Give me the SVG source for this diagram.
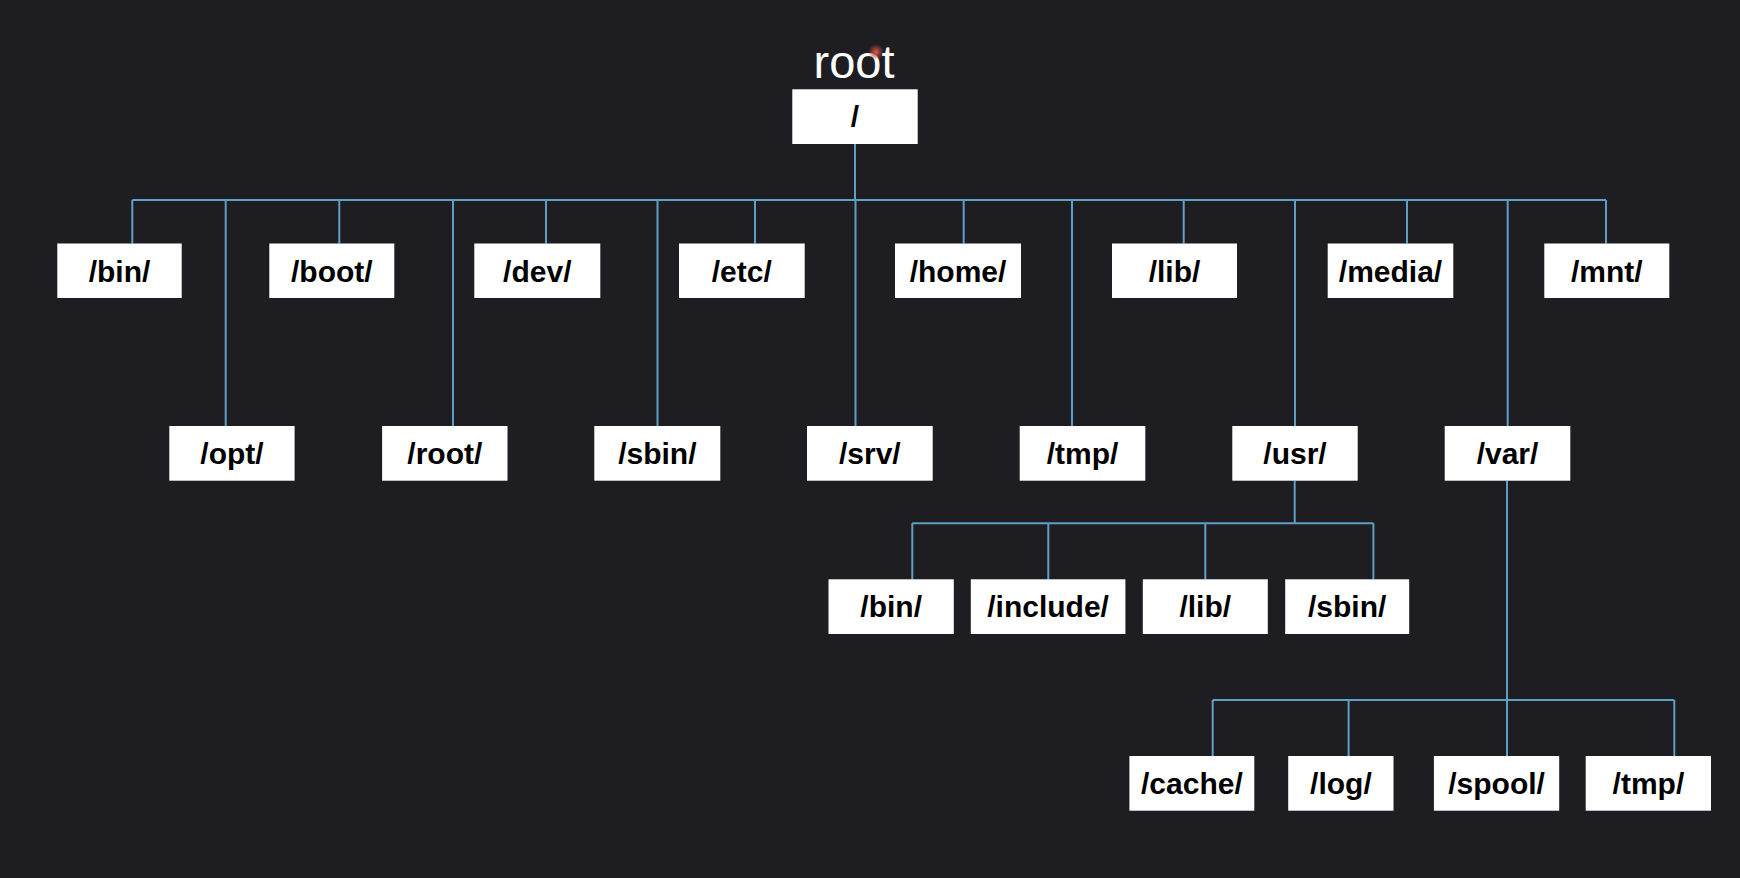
<svg xmlns="http://www.w3.org/2000/svg" width="1740" height="878" viewBox="0 0 1740 878">
<defs>
<style>
.box{fill:#ffffff;}
.lbl{font-family:"Liberation Sans",Arial,Helvetica,sans-serif;font-size:30px;font-weight:bold;fill:#000000;text-anchor:middle;}
.title{font-family:"Liberation Sans",Arial,Helvetica,sans-serif;font-size:47px;fill:#ffffff;text-anchor:middle;}
.conn{stroke:#5e9fc6;stroke-width:2;fill:none;}
</style>
<radialGradient id="glow" cx="0.5" cy="0.5" r="0.5">
<stop offset="0" stop-color="#e06a5a" stop-opacity="0.95"/>
<stop offset="0.5" stop-color="#c0453e" stop-opacity="0.6"/>
<stop offset="1" stop-color="#c0453e" stop-opacity="0"/>
</radialGradient>
</defs>
<rect width="1740" height="878" fill="#1e1d22"/>

<g id="connectors" class="conn">
<path d="M855 144 V200"/>
<path d="M132.3 200 H1606"/>
<path d="M132.3 200 V243.5 M339.3 200 V243.5 M546 200 V243.5 M755 200 V243.5 M963.7 200 V243.5 M1183.7 200 V243.5 M1407 200 V243.5 M1606 200 V243.5"/>
<path d="M225.7 200 V426 M453 200 V426 M657.5 200 V426 M855.5 200 V426 M1072 200 V426 M1295 200 V426 M1507.7 200 V426"/>
<path d="M1294.7 480.7 V523.3 M912.3 523.3 H1373.4 M912.3 523.3 V579.3 M1048.3 523.3 V579.3 M1205.3 523.3 V579.3 M1373.4 523.3 V579.3"/>
<path d="M1507 480.7 V756 M1212.7 700 H1674.3 M1212.7 700 V756 M1348.6 700 V756 M1674.3 700 V756"/>
</g>

<g id="root-title">
<text class="title" x="854" y="78">root</text>
<circle cx="876" cy="52" r="8" fill="url(#glow)"/>
</g>

<g id="node-root"><rect class="box" x="792.3" y="89.3" width="125.4" height="54.7"/><text class="lbl" x="855" y="127.4">/</text></g>

<g id="node-bin"><rect class="box" x="57.3" y="243.5" width="124.4" height="54.5"/><text class="lbl" x="119.5" y="281.5">/bin/</text></g>
<g id="node-boot"><rect class="box" x="269.3" y="243.5" width="125" height="54.5"/><text class="lbl" x="331.8" y="281.5">/boot/</text></g>
<g id="node-dev"><rect class="box" x="474.3" y="243.5" width="126" height="54.5"/><text class="lbl" x="537.3" y="281.5">/dev/</text></g>
<g id="node-etc"><rect class="box" x="679" y="243.5" width="125.7" height="54.5"/><text class="lbl" x="741.8" y="281.5">/etc/</text></g>
<g id="node-home"><rect class="box" x="895" y="243.5" width="126" height="54.5"/><text class="lbl" x="958" y="281.5">/home/</text></g>
<g id="node-lib"><rect class="box" x="1112" y="243.5" width="125" height="54.5"/><text class="lbl" x="1174.5" y="281.5">/lib/</text></g>
<g id="node-media"><rect class="box" x="1327.7" y="243.5" width="125.6" height="54.5"/><text class="lbl" x="1390.5" y="281.5">/media/</text></g>
<g id="node-mnt"><rect class="box" x="1544.3" y="243.5" width="125" height="54.5"/><text class="lbl" x="1606.8" y="281.5">/mnt/</text></g>

<g id="node-opt"><rect class="box" x="169.3" y="426" width="125.3" height="54.7"/><text class="lbl" x="232" y="464">/opt/</text></g>
<g id="node-rootdir"><rect class="box" x="382.1" y="426" width="125.4" height="54.7"/><text class="lbl" x="444.8" y="464">/root/</text></g>
<g id="node-sbin"><rect class="box" x="594.3" y="426" width="126" height="54.7"/><text class="lbl" x="657.3" y="464">/sbin/</text></g>
<g id="node-srv"><rect class="box" x="807" y="426" width="125.7" height="54.7"/><text class="lbl" x="869.8" y="464">/srv/</text></g>
<g id="node-tmp"><rect class="box" x="1019.7" y="426" width="125.6" height="54.7"/><text class="lbl" x="1082.5" y="464">/tmp/</text></g>
<g id="node-usr"><rect class="box" x="1232.3" y="426" width="125.4" height="54.7"/><text class="lbl" x="1295" y="464">/usr/</text></g>
<g id="node-var"><rect class="box" x="1444.7" y="426" width="125.6" height="54.7"/><text class="lbl" x="1507.5" y="464">/var/</text></g>

<g id="node-usr-bin"><rect class="box" x="828.5" y="579.3" width="125.3" height="54.7"/><text class="lbl" x="891.2" y="617.3">/bin/</text></g>
<g id="node-usr-include"><rect class="box" x="970.8" y="579.3" width="154.6" height="54.7"/><text class="lbl" x="1048.1" y="617.3">/include/</text></g>
<g id="node-usr-lib"><rect class="box" x="1142.8" y="579.3" width="125" height="54.7"/><text class="lbl" x="1205.3" y="617.3">/lib/</text></g>
<g id="node-usr-sbin"><rect class="box" x="1285.2" y="579.3" width="124" height="54.7"/><text class="lbl" x="1347.2" y="617.3">/sbin/</text></g>

<g id="node-var-cache"><rect class="box" x="1129.4" y="756" width="124.9" height="54.7"/><text class="lbl" x="1191.9" y="794">/cache/</text></g>
<g id="node-var-log"><rect class="box" x="1288.2" y="756" width="105.3" height="54.7"/><text class="lbl" x="1340.9" y="794">/log/</text></g>
<g id="node-var-spool"><rect class="box" x="1433.9" y="756" width="125.3" height="54.7"/><text class="lbl" x="1496.6" y="794">/spool/</text></g>
<g id="node-var-tmp"><rect class="box" x="1585.7" y="756" width="125.3" height="54.7"/><text class="lbl" x="1648.4" y="794">/tmp/</text></g>
</svg>
